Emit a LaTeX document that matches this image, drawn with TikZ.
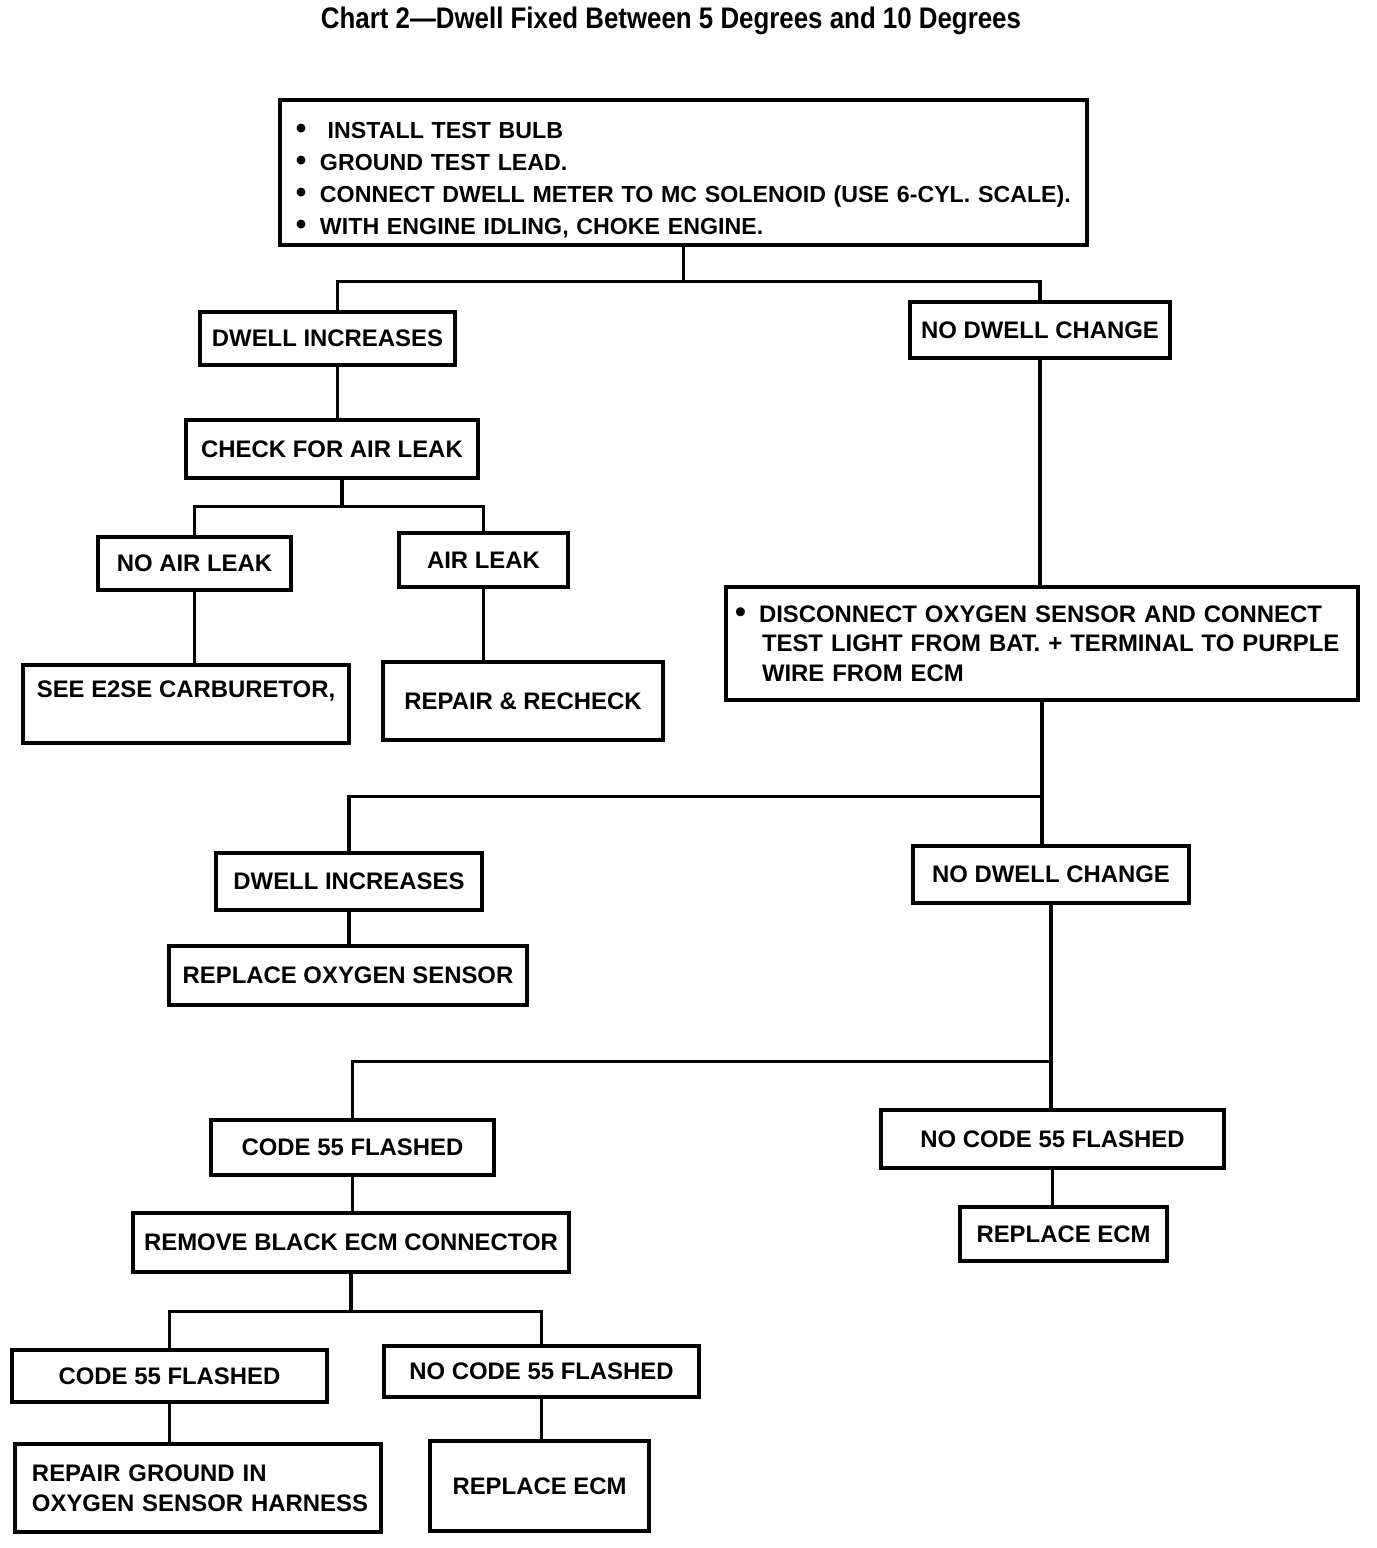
\documentclass[tikz,border=0pt]{standalone}
\usepackage{fontspec}
\setmainfont{Liberation Sans}
\usepackage{tikz}
\usetikzlibrary{calc,positioning}
\newcommand{\bul}{\makebox[6mm][l]{\scalebox{1.3}{\textbullet}}}
\newcommand{\bulgap}{\hspace*{6.75mm}}
\tikzset{
	box/.style={
		draw, rectangle, line width=2.4pt,
		inner sep=0pt, text=black, align=center,
		font=\fontsize{17}{21}\selectfont\bfseries
	},
	sz/.style 2 args={minimum width=#1*0.25mm, minimum height=#2*0.25mm},
	link/.style={line width=2.4pt},
	title/.style={font=\fontsize{18.4}{22}\selectfont\bfseries}
}
\begin{document}
\begin{tikzpicture}[x=0.25mm,y=-0.25mm]
	\useasboundingbox (0,0) rectangle (1376,1548);
	\node[title] (ttl) at (671,21) {\scalebox{1}[1.15]{Chart 2---Dwell Fixed Between 5 Degrees and 10 Degrees}};
	% first test
	\node[box,sz={807}{145},text width=193.75mm,align=left,
		font=\fontsize{16.5}{22.7}\selectfont\bfseries] (top) at (683.5,172.5)
		{\mbox{\rule{0pt}{7.8mm}\bul\ INSTALL TEST BULB}\\
		\mbox{\bul GROUND TEST LEAD.}\\
		\mbox{\bul CONNECT DWELL METER TO MC SOLENOID (USE 6-CYL. SCALE).}\\
		\mbox{\bul WITH ENGINE IDLING, CHOKE ENGINE.}};
	\node[box,sz={255}{53}] (di1) at (327.5,338.5) {DWELL INCREASES};
	\node[box,sz={260}{56}] (nd1) at (1040,330) {NO DWELL CHANGE};
	\node[box,sz={292}{58}] (chk) at (332,449) {CHECK FOR AIR LEAK};
	\node[box,sz={193}{53}] (nal) at (194.5,563.5) {NO AIR LEAK};
	\node[box,sz={169}{54}] (al) at (483.5,560) {AIR LEAK};
	\node[box,sz={326}{78}] (see) at (186,704) {SEE E2SE CARBURETOR,\\ \mbox{}};
	\node[box,sz={280}{78}] (rep) at (523,701) {REPAIR \& RECHECK};
	% oxygen sensor test
	\node[box,sz={632}{113},text width=153.5mm,align=left] (disc) at (1042,643.5)
		{\mbox{\bul DISCONNECT OXYGEN SENSOR AND CONNECT}\\
		\mbox{\bulgap TEST LIGHT FROM BAT. + TERMINAL TO PURPLE}\\
		\mbox{\bulgap WIRE FROM ECM}};
	\node[box,sz={266}{57}] (di2) at (349,881.5) {DWELL INCREASES};
	\node[box,sz={358}{59}] (ros) at (348,975.5) {REPLACE OXYGEN SENSOR};
	\node[box,sz={276}{57}] (nd2) at (1051,874.5) {NO DWELL CHANGE};
	% code 55 checks
	\node[box,sz={283}{55}] (c55a) at (352.5,1147.5) {CODE 55 FLASHED};
	\node[box,sz={436}{59}] (rbc) at (351,1242.5) {REMOVE BLACK ECM CONNECTOR};
	\node[box,sz={343}{58}] (nc55a) at (1052.5,1139) {NO CODE 55 FLASHED};
	\node[box,sz={207}{54}] (recm1) at (1063.5,1234) {REPLACE ECM};
	\node[box,sz={315}{52}] (c55b) at (169.5,1376) {CODE 55 FLASHED};
	\node[box,sz={315}{51}] (nc55b) at (541.5,1371.5) {NO CODE 55 FLASHED};
	\node[box,sz={366}{88},text width=83mm,align=left] (rg) at (198,1488)
		{\mbox{REPAIR GROUND IN}\\ \mbox{OXYGEN SENSOR HARNESS}};
	\node[box,sz={219}{90}] (recm2) at (539.5,1486) {REPLACE ECM};
	% connectors
	\draw[link] (top.south) -- ++(0,35) -| ([xshift=2.5mm]di1.north);
	\draw[link] (top.south) -- ++(0,35) -| (nd1.north);
	\draw[link] ([xshift=2.5mm]di1.south) -- ([xshift=2.5mm]di1.south |- chk.north);
	\draw[link] ([xshift=2.5mm]chk.south) -- ++(0,27) -| (nal.north);
	\draw[link] ([xshift=2.5mm]chk.south) -- ++(0,27) -| (al.north);
	\draw[link] (nal.south) -- (nal.south |- see.north);
	\draw[link] (al.south) -- (al.south |- rep.north);
	\draw[link] (nd1.south) -- (nd1.south |- disc.north);
	\draw[link] (disc.south) -- ++(0,95) -| (di2.north);
	\draw[link] (disc.south) -- (disc.south |- nd2.north);
	\draw[link] (di2.south) -- (di2.south |- ros.north);
	\draw[link] (nd2.south) -- ++(0,157) -| (c55a.north);
	\draw[link] (nd2.south) -- (nd2.south |- nc55a.north);
	\draw[link] (c55a.south) -- (c55a.south |- rbc.north);
	\draw[link] (nc55a.south) -- (nc55a.south |- recm1.north);
	\draw[link] (rbc.south) -- ++(0,38) -| (c55b.north);
	\draw[link] (rbc.south) -- ++(0,38) -| (nc55b.north);
	\draw[link] (c55b.south) -- (c55b.south |- rg.north);
	\draw[link] (nc55b.south) -- (nc55b.south |- recm2.north);
\end{tikzpicture}
\end{document}
